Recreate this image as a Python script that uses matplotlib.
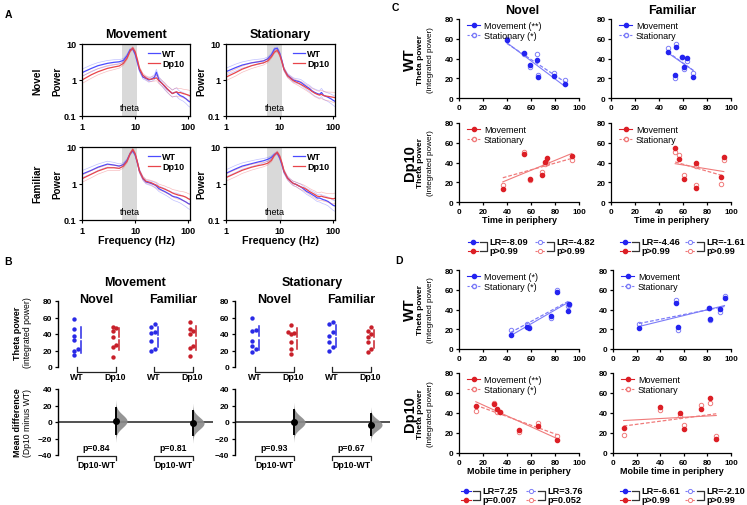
import numpy as np
import matplotlib
matplotlib.use("Agg")
import matplotlib.pyplot as plt
from matplotlib.lines import Line2D
from matplotlib.ticker import NullLocator

plt.rcParams['font.family'] = ['Liberation Sans', 'DejaVu Sans']
plt.rcParams['axes.linewidth'] = 0.9

# ---------------- data ----------------
# A: power spectra
freq = [1, 1.5, 2, 3, 4, 5, 6, 7, 8, 9, 10, 11, 12, 14, 16, 18, 20, 23, 25, 28,
        32, 36, 40, 45, 50, 55, 60, 65, 70, 80, 90, 100, 110]
sem_ratio = [1.25, 1.25, 1.22, 1.2, 1.18, 1.15, 1.12, 1.1, 1.08, 1.08, 1.1, 1.12, 1.12,
             1.12, 1.13, 1.15, 1.15, 1.18, 1.2, 1.2, 1.2, 1.22, 1.22, 1.25, 1.25, 1.28,
             1.3, 1.3, 1.3, 1.32, 1.35, 1.38, 1.4]
mov_nov_wt = [1.6, 2.1, 2.5, 2.9, 3.1, 3.2, 3.5, 4.7, 6.9, 7.3, 5.2, 3.1, 1.9, 1.2, 1.1, 1.0,
              1.05, 1.2, 1.65, 1.0, 0.8, 0.65, 0.55, 0.48, 0.42, 0.45, 0.46, 0.4, 0.37, 0.34,
              0.3, 0.26, 0.24]
mov_nov_dp = [1.0, 1.4, 1.7, 2.1, 2.3, 2.45, 2.9, 4.0, 6.3, 7.8, 6.0, 3.6, 2.1, 1.35, 1.15,
              1.05, 1.05, 1.1, 1.15, 0.95, 0.8, 0.68, 0.57, 0.48, 0.42, 0.45, 0.47, 0.44,
              0.45, 0.42, 0.4, 0.38, 0.36]
sta_nov_wt = [1.7, 2.2, 2.6, 3.0, 3.2, 3.4, 3.9, 5.0, 7.3, 7.6, 5.5, 3.4, 2.0, 1.35, 1.15,
              1.0, 0.95, 0.9, 0.85, 0.75, 0.65, 0.58, 0.5, 0.45, 0.42, 0.4, 0.45, 0.38, 0.36,
              0.33, 0.3, 0.27, 0.25]
sta_nov_dp = [1.2, 1.6, 2.0, 2.5, 2.8, 3.0, 3.4, 4.4, 6.0, 6.6, 5.0, 3.2, 2.0, 1.3, 1.1, 0.95,
              0.88, 0.8, 0.75, 0.68, 0.6, 0.54, 0.48, 0.43, 0.4, 0.38, 0.4, 0.37, 0.36, 0.35,
              0.34, 0.33, 0.32]
mov_fam_wt = [1.8, 2.3, 2.8, 3.4, 3.2, 3.0, 3.3, 4.3, 6.5, 7.9, 6.0, 3.7, 2.2, 1.35, 1.1,
              1.05, 1.0, 0.92, 0.85, 0.72, 0.65, 0.6, 0.55, 0.5, 0.45, 0.43, 0.42, 0.4, 0.38,
              0.34, 0.31, 0.28, 0.27]
mov_fam_dp = [1.35, 1.8, 2.2, 2.7, 2.7, 2.6, 3.0, 4.0, 6.5, 8.6, 6.5, 3.8, 2.2, 1.4, 1.15,
              1.1, 1.05, 0.95, 0.9, 0.8, 0.75, 0.7, 0.65, 0.6, 0.55, 0.52, 0.5, 0.48, 0.47,
              0.45, 0.42, 0.38, 0.36]
sta_fam_wt = [1.9, 2.5, 3.0, 3.5, 3.9, 4.2, 4.6, 5.2, 6.3, 6.8, 5.0, 3.3, 2.1, 1.4, 1.15, 1.0,
              0.95, 0.85, 0.8, 0.7, 0.6, 0.55, 0.5, 0.45, 0.4, 0.4, 0.38, 0.36, 0.35, 0.32,
              0.28, 0.25, 0.24]
sta_fam_dp = [1.45, 1.9, 2.3, 2.8, 3.1, 3.3, 3.6, 4.3, 6.0, 7.2, 5.6, 3.6, 2.2, 1.4, 1.15,
              1.0, 0.95, 0.85, 0.8, 0.76, 0.68, 0.6, 0.55, 0.5, 0.45, 0.44, 0.45, 0.43, 0.42,
              0.4, 0.39, 0.38, 0.4]
theta_band = (5.7, 11)

# B: theta power per animal
b_mov_nov_wt = [58, 46, 38, 33, 22, 20, 14]
b_mov_nov_dp = [49, 47, 44, 36, 27, 24, 12]
b_mov_fam_wt = [52, 48, 42, 41, 31, 22, 20]
b_mov_fam_dp = [55, 46, 44, 40, 25, 23, 13]
b_sta_nov_wt = [60, 45, 44, 32, 25, 22, 18]
b_sta_nov_dp = [51, 43, 41, 40, 30, 22, 16]
b_sta_fam_wt = [55, 52, 42, 38, 30, 24, 20]
b_sta_fam_dp = [48, 44, 40, 36, 30, 22, 18]
b_pvals_mov = ["p=0.84", "p=0.81"]
b_pvals_sta = ["p=0.93", "p=0.67"]

# C: theta power vs time in periphery
c_nov_wt_x = [40, 54.5, 59.5, 65, 65.5, 79, 88.5]
c_nov_wt_mov = [58.5, 46, 33.5, 38.5, 21.5, 22, 14]
c_nov_wt_sta = [59.5, 45, 31, 44.5, 23.5, 25.5, 18.5]
c_fam_wt_x = [47.5, 54, 59, 63.5, 61, 53, 68.5]
c_fam_wt_mov = [47, 52, 42, 41, 31, 23, 21]
c_fam_wt_sta = [50.5, 55, 42, 37.5, 29.5, 20, 25.5]
c_nov_dp_x = [36.5, 54, 59.5, 69.5, 72, 73, 94]
c_nov_dp_mov = [13, 48.5, 23.5, 27, 40.5, 44.5, 47]
c_nov_dp_sta = [17.5, 50.5, 22, 30, 38.5, 40, 42.5]
c_fam_dp_x = [53.5, 57, 61, 71, 71, 92, 94]
c_fam_dp_mov = [54.5, 44, 23.5, 40, 14, 25, 46]
c_fam_dp_sta = [50.5, 48, 27.5, 36, 17, 18, 43]
c_stats = [("LR=-8.09", "p>0.99", "LR=-4.82", "p>0.99"),
           ("LR=-4.46", "p>0.99", "LR=-1.61", "p>0.99")]

# D: theta power vs mobile time in periphery
d_wt_l_x = [43, 56.5, 58.5, 77, 82, 90.5, 91.5]
d_wt_l_mov = [14.5, 22, 21, 33.5, 58, 38.5, 46]
d_wt_l_sta = [19, 25, 22.5, 31.5, 60, 44, 45]
d_wt_r_x = [22, 53, 55, 81, 82.5, 91, 94.5]
d_wt_r_mov = [21, 47, 22.5, 41.5, 30.5, 40.5, 51.5]
d_wt_r_sta = [25.5, 50, 19.5, 42, 29.5, 37.5, 54]
d_dp_l_x = [14, 29.5, 31.5, 34, 50, 65.5, 82]
d_dp_l_mov = [47, 49, 44.5, 41, 23.5, 27, 13.5]
d_dp_l_sta = [42.5, 50.5, 41, 41, 21.5, 30, 17.5]
d_dp_r_x = [9, 39.5, 57, 60.5, 74.5, 82, 87.5]
d_dp_r_mov = [25, 46, 40, 24.5, 44.5, 55, 14.5]
d_dp_r_sta = [18.5, 43.5, 37, 28, 48.5, 50, 17.5]
d_stats = [("LR=7.25", "p=0.007", "LR=3.76", "p=0.052"),
           ("LR=-6.61", "p>0.99", "LR=-2.10", "p>0.99")]

# colours
WT_A, DP_A = '#4b4bff', '#e8454a'
BLUE, RED = '#2a2ae6', '#c8202a'
BLUE_C, LBLUE_C = '#2424f0', '#7c7cf8'
RED_C, LRED_C = '#dc1f26', '#f07a7a'

# ---------------- helpers ----------------
W, H = 747, 506
fig = plt.figure(figsize=(W / 100, H / 100), dpi=100)


def px_axes(x0, y0, x1, y1):
    return fig.add_axes([x0 / W, 1 - y1 / H, (x1 - x0) / W, (y1 - y0) / H])


def ftext(x, y, s, **kw):
    kw.setdefault('ha', 'center')
    kw.setdefault('va', 'center')
    fig.text(x / W, 1 - y / H, s, **kw)


def fline(xs, ys, **kw):
    kw.setdefault('color', '#222222')
    kw.setdefault('lw', 0.9)
    fig.add_artist(Line2D([x / W for x in xs], [1 - y / H for y in ys],
                          transform=fig.transFigure, **kw))


def bold_ticks(ax, size):
    ax.tick_params(labelsize=size)
    for t in ax.get_xticklabels() + ax.get_yticklabels():
        t.set_fontweight('bold')


# ---------------- panel A ----------------
ftext(8, 15, "A", fontsize=7.5, fontweight='bold')


def spectrum(box, wt, dp, xlabel):
    ax = px_axes(*box)
    ax.set_xscale('log')
    ax.set_yscale('log')
    ax.axvspan(*theta_band, color='#d9d9d9', lw=0, zorder=0)
    r = np.array(sem_ratio)
    for vals, col in ((wt, WT_A), (dp, DP_A)):
        v = np.array(vals)
        ax.plot(freq, v * r, color=col, lw=0.5, alpha=0.35)
        ax.plot(freq, v / r, color=col, lw=0.5, alpha=0.35)
        ax.plot(freq, v, color=col, lw=0.9)
    ax.set_xlim(1, 107)
    ax.set_ylim(0.1, 10)
    ax.set_xticks([1, 10, 100])
    ax.set_xticklabels(['1', '10', '100'])
    ax.set_yticks([0.1, 1, 10])
    ax.set_yticklabels(['0.1', '1', '10'])
    ax.xaxis.set_minor_locator(NullLocator())
    ax.yaxis.set_minor_locator(NullLocator())
    ax.tick_params(direction='out', length=2.5, width=0.8, pad=1.5)
    bold_ticks(ax, 6.5)
    ax.text(8, 0.17, "theta", ha='center', va='center', fontsize=6.5)
    ax.set_ylabel("Power", fontsize=7, fontweight='bold', labelpad=1)
    if xlabel:
        ax.set_xlabel("Frequency (Hz)", fontsize=7.7, fontweight='bold', labelpad=0.5)
    h = [Line2D([], [], color=WT_A, lw=0.9), Line2D([], [], color=DP_A, lw=0.9)]
    ax.legend(h, ['WT', 'Dp10'], loc='upper right', frameon=False,
              prop={'weight': 'bold', 'size': 6.5}, handlelength=1.3,
              handletextpad=0.3, labelspacing=0.1, borderaxespad=0.2)
    return ax


spectrum((82, 45, 190, 117), mov_nov_wt, mov_nov_dp, False)
spectrum((226, 45, 335, 117), sta_nov_wt, sta_nov_dp, False)
spectrum((82, 148, 190, 221), mov_fam_wt, mov_fam_dp, True)
spectrum((226, 148, 335, 221), sta_fam_wt, sta_fam_dp, True)
ftext(136, 35, "Movement", fontsize=9, fontweight='bold')
ftext(280, 35, "Stationary", fontsize=9, fontweight='bold')
ftext(37, 81, "Novel", fontsize=7.2, fontweight='bold', rotation=90)
ftext(37, 184, "Familiar", fontsize=7.2, fontweight='bold', rotation=90)

# ---------------- panel B ----------------
ftext(8, 262, "B", fontsize=7.5, fontweight='bold')
UNIT = 38.5     # px between groups
SY = 66 / 80    # px per theta unit


def swarm(vals, dy, dx):
    order = np.argsort(vals)
    placed = []
    offs = np.zeros(len(vals))
    for i in order:
        v = vals[i]
        k = 0
        while True:
            cand = (k + 1) // 2 * dx * (1 if k % 2 else -1) if k else 0.0
            if all(abs(pv - v) >= dy or abs(po - cand) >= dx * 0.99 for po, pv in placed):
                break
            k += 1
        placed.append((cand, v))
        offs[i] = cand
    return offs


def estimation_block(spine_px, first_px, right_px, groups, pvals, block_title):
    lo = (spine_px - first_px) / UNIT
    # top: raw data
    ax = px_axes(spine_px, 300, right_px + 2, 380)
    ax.set_xlim(lo, (right_px + 2 - first_px) / UNIT)
    ax.set_ylim(-(380 - 368) / SY, 80 + (302 - 300) / SY)
    for s in ('top', 'right', 'bottom'):
        ax.spines[s].set_visible(False)
    ax.spines['left'].set_bounds(0, 80)
    ax.spines['left'].set_linewidth(1.0)
    ax.set_xticks([])
    ax.set_yticks([0, 20, 40, 60, 80])
    ax.tick_params(direction='out', length=2.5, width=0.9, pad=1.5)
    bold_ticks(ax, 6)
    for i, vals in enumerate(groups):
        vals = np.array(vals, float)
        col = BLUE if i % 2 == 0 else RED
        off = swarm(vals, 4.2, 0.085)
        ax.scatter(i - 0.07 + off, vals, s=10, color=col, lw=0, clip_on=False, zorder=3)
        m, sd = vals.mean(), vals.std(ddof=1)
        ax.plot([i + 0.1, i + 0.1], [m - sd, m - 2], color=col, lw=1.1)
        ax.plot([i + 0.1, i + 0.1], [m + 2, m + sd], color=col, lw=1.1)
    # bottom: mean difference
    bx = px_axes(spine_px, 385, right_px, 470)
    bx.set_xlim(lo, (right_px - first_px) / UNIT)
    bx.set_ylim(-40 - (470 - 456) / SY, 40 + (390 - 385) / SY)
    for s in ('top', 'right', 'bottom'):
        bx.spines[s].set_visible(False)
    bx.spines['left'].set_bounds(-40, 40)
    bx.spines['left'].set_linewidth(1.0)
    bx.set_xticks([])
    bx.set_yticks([-40, -20, 0, 20, 40])
    bx.tick_params(direction='out', length=2.5, width=0.9, pad=1.5)
    bold_ticks(bx, 6)
    bx.axhline(0, color='#333333', lw=1.2, zorder=1)
    for j in range(2):
        wt = np.array(groups[2 * j], float)
        dp = np.array(groups[2 * j + 1], float)
        diff = dp.mean() - wt.mean()
        se = np.sqrt(wt.var(ddof=1) / len(wt) + dp.var(ddof=1) / len(dp))
        xc = 2 * j + 1
        yy = np.linspace(diff - 3.2 * se, diff + 3.2 * se, 120)
        wdt = 0.3 * np.exp(-0.5 * ((yy - diff) / se) ** 2)
        bx.fill_betweenx(yy, xc, xc + wdt, color='#8a8a8a', lw=0, alpha=0.9, zorder=2)
        bx.plot([xc, xc], [diff - 1.96 * se, diff + 1.96 * se], color='black', lw=1.4, zorder=3)
        bx.scatter([xc], [diff], s=16, color='black', zorder=4)
    # brackets and labels in pixels
    for j, sub in enumerate(("Novel", "Familiar")):
        x0 = first_px + 2 * j * UNIT
        x1 = x0 + UNIT
        ftext((x0 + x1) / 2, 300, sub, fontsize=9, fontweight='bold')
        fline([x0, x0, x1, x1], [368, 373, 373, 368])
        ftext(x0, 378, "WT", fontsize=6.3, fontweight='bold')
        ftext(x1, 378, "Dp10", fontsize=6.3, fontweight='bold')
        ftext((x0 + x1) / 2, 449, pvals[j], fontsize=6.2, fontweight='bold')
        fline([x0, x0, x1, x1], [461, 457, 457, 461])
        ftext((x0 + x1) / 2, 466, "Dp10-WT", fontsize=6.3, fontweight='bold')
    ftext(first_px + 1.5 * UNIT, 283, block_title, fontsize=9, fontweight='bold')
    return ax, bx


estimation_block(58, 77, 213,
                 [b_mov_nov_wt, b_mov_nov_dp, b_mov_fam_wt, b_mov_fam_dp],
                 b_pvals_mov, "Movement")
estimation_block(235, 255, 390,
                 [b_sta_nov_wt, b_sta_nov_dp, b_sta_fam_wt, b_sta_fam_dp],
                 b_pvals_sta, "Stationary")
ftext(17, 333, "Theta power", fontsize=6.5, fontweight='bold', rotation=90)
ftext(27, 333, "(integrated power)", fontsize=6.2, rotation=90)
ftext(17, 423, "Mean difference", fontsize=6.5, fontweight='bold', rotation=90)
ftext(27, 423, "(Dp10 minus WT)", fontsize=6.2, rotation=90)

# ---------------- panels C and D ----------------
ftext(395, 8, "C", fontsize=7.5, fontweight='bold')
ftext(399, 261, "D", fontsize=7.5, fontweight='bold')


def scatter_panel(box, x, mov, sta, col, light, labels, xlabel=None):
    ax = px_axes(*box)
    ax.set_xlim(0, 100)
    ax.set_ylim(0, 80)
    for s in ('top', 'right'):
        ax.spines[s].set_visible(False)
    ax.set_xticks([0, 20, 40, 60, 80, 100])
    ax.set_yticks([0, 20, 40, 60, 80])
    ax.tick_params(direction='out', length=2.5, width=0.9, pad=1.5)
    bold_ticks(ax, 5.8)
    xs = np.array([min(x), max(x)])
    pm = np.polyfit(x, mov, 1)
    ps = np.polyfit(x, sta, 1)
    ax.plot(xs, np.polyval(pm, xs), color=light, lw=0.8)
    ax.plot(xs, np.polyval(ps, xs), color=light, lw=0.9, ls=(0, (3, 1.5)))
    ax.plot(x, sta, 'o', ms=3.2, mfc='none', mec=light, mew=0.7, ls='none', clip_on=False)
    ax.plot(x, mov, 'o', ms=3.0, color=col, ls='none', clip_on=False)
    h = [Line2D([], [], color=col, marker='o', ms=3, lw=0.8),
         Line2D([], [], color=light, marker='o', ms=3, mfc='white', mec=light,
                lw=0.8, ls=(0, (2, 1.2)))]
    ax.legend(h, labels, loc='upper left', bbox_to_anchor=(0.02, 1.04), frameon=False,
              fontsize=6.5, handlelength=1.5, handletextpad=0.4, labelspacing=0.05,
              borderaxespad=0.2)
    if xlabel:
        ax.set_xlabel(xlabel, fontsize=6.5, fontweight='bold', labelpad=0.5)
    return ax


scatter_panel((459, 20, 579, 99), c_nov_wt_x, c_nov_wt_mov, c_nov_wt_sta, BLUE_C, LBLUE_C,
              ["Movement (**)", "Stationary (*)"])
scatter_panel((611, 20, 731, 99), c_fam_wt_x, c_fam_wt_mov, c_fam_wt_sta, BLUE_C, LBLUE_C,
              ["Movement", "Stationary"])
scatter_panel((459, 124, 579, 203), c_nov_dp_x, c_nov_dp_mov, c_nov_dp_sta, RED_C, LRED_C,
              ["Movement", "Stationary"], "Time in periphery")
scatter_panel((611, 124, 731, 203), c_fam_dp_x, c_fam_dp_mov, c_fam_dp_sta, RED_C, LRED_C,
              ["Movement", "Stationary"], "Time in periphery")
scatter_panel((459, 271, 579, 350), d_wt_l_x, d_wt_l_mov, d_wt_l_sta, BLUE_C, LBLUE_C,
              ["Movement (*)", "Stationary (*)"])
scatter_panel((613, 271, 731, 350), d_wt_r_x, d_wt_r_mov, d_wt_r_sta, BLUE_C, LBLUE_C,
              ["Movement", "Stationary"])
scatter_panel((459, 374, 579, 454), d_dp_l_x, d_dp_l_mov, d_dp_l_sta, RED_C, LRED_C,
              ["Movement (**)", "Stationary (*)"], "Mobile time in periphery")
scatter_panel((613, 374, 731, 454), d_dp_r_x, d_dp_r_mov, d_dp_r_sta, RED_C, LRED_C,
              ["Movement", "Stationary"], "Mobile time in periphery")

ftext(522, 11, "Novel", fontsize=9, fontweight='bold')
ftext(672, 11, "Familiar", fontsize=9, fontweight='bold')

for yc, name in ((60, "WT"), (163, "Dp10"), (310, "WT"), (414, "Dp10")):
    ftext(410, yc, name, fontsize=10.5, fontweight='bold', rotation=90)
    ftext(421, yc, "Theta power", fontsize=6, fontweight='bold', rotation=90)
    ftext(430, yc, "(integrated power)", fontsize=5.9, rotation=90)


def lr_key(x, y, filled, lr, p):
    for dy, col, light in ((0, BLUE_C, LBLUE_C), (8.5, RED_C, LRED_C)):
        yy = y + dy
        if filled:
            fline([x - 5, x + 5], [yy, yy], color=col, lw=0.8)
            fline([x], [yy], color=col, marker='o', ms=3, ls='none')
        else:
            fline([x - 5, x + 5], [yy, yy], color=light, lw=0.8, ls=(0, (2, 1.2)))
            fline([x], [yy], color=light, marker='o', ms=3, mfc='white', mec=light,
                  mew=0.7, ls='none')
    fline([x + 7, x + 14, x + 14, x + 7], [y, y, y + 8.5, y + 8.5], color='#333333', lw=0.9)
    ftext(x + 16, y - 0.5, lr, fontsize=6.6, fontweight='bold', ha='left')
    ftext(x + 16, y + 8.5, p, fontsize=6.6, fontweight='bold', ha='left')


for (x1, x2), st, yrow in (((473, 540), c_stats[0], 243), ((625, 690), c_stats[1], 243),
                           ((466, 531), d_stats[0], 492), ((625, 690), d_stats[1], 492)):
    lr_key(x1, yrow, True, st[0], st[1])
    lr_key(x2, yrow, False, st[2], st[3])

fig.savefig("out.png", dpi=100)
